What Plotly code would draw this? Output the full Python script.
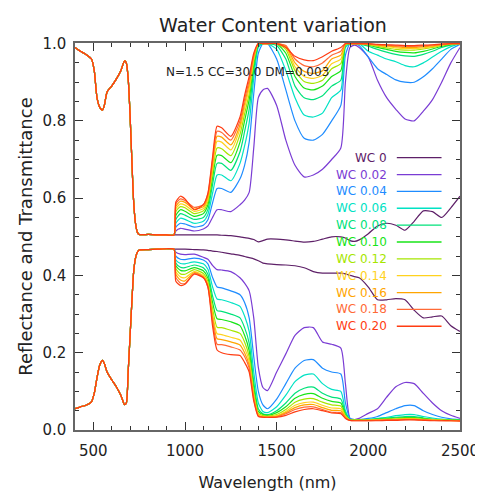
import plotly.graph_objects as go

# ---------------- data ----------------
wc_labels = ["WC 0", "WC 0.02", "WC 0.04", "WC 0.06", "WC 0.08", "WC 0.10",
             "WC 0.12", "WC 0.14", "WC 0.16", "WC 0.18", "WC 0.20"]
colors = ["#5E2068", "#7A3CD4", "#1E8CFF", "#00E2C4", "#00E27A", "#18E418",
          "#A6E600", "#FFD21E", "#FFA500", "#FF6A36", "#FF3C12"]

# visible part (identical for all water contents)
wl_vis = [400, 430, 460, 490, 505, 520, 535, 550, 560, 575, 600, 625, 650, 670, 680,
          690, 700, 710, 720, 730, 740, 750, 800, 850, 900, 940]
refl_vis = [0.055, 0.06, 0.064, 0.073, 0.095, 0.135, 0.168, 0.18, 0.172, 0.15, 0.13,
            0.112, 0.09, 0.066, 0.07, 0.15, 0.24, 0.33, 0.41, 0.445, 0.46, 0.466,
            0.467, 0.468, 0.469, 0.468]
upper_vis = [0.99, 0.98, 0.972, 0.96, 0.93, 0.86, 0.835, 0.828, 0.84, 0.875, 0.89,
             0.908, 0.93, 0.955, 0.95, 0.91, 0.82, 0.70, 0.59, 0.535, 0.512, 0.506,
             0.506, 0.505, 0.505, 0.505]

# NIR / SWIR part
wl_swir = [950, 975, 1000, 1050, 1100, 1125, 1150, 1175, 1200, 1250, 1300, 1325, 1350,
           1375, 1400, 1425, 1450, 1500, 1550, 1600, 1650, 1700, 1750, 1800, 1850, 1875,
           1900, 1925, 1950, 2000, 2050, 2100, 2150, 2200, 2250, 2300, 2350, 2400, 2450,
           2500]

refl_wc000 = [0.468, 0.468, 0.468, 0.467, 0.466, 0.465, 0.463, 0.462, 0.46, 0.456, 0.452, 0.449, 0.446, 0.443, 0.438, 0.432, 0.43, 0.428, 0.427, 0.425, 0.42, 0.41, 0.406, 0.406, 0.406, 0.404, 0.40, 0.397, 0.394, 0.37, 0.337, 0.337, 0.34, 0.337, 0.31, 0.29, 0.293, 0.295, 0.27, 0.255]
refl_wc002 = [0.46, 0.455, 0.454, 0.455, 0.447, 0.442, 0.426, 0.415, 0.414, 0.41, 0.394, 0.38, 0.36, 0.29, 0.162, 0.11, 0.102, 0.15, 0.197, 0.245, 0.265, 0.265, 0.228, 0.222, 0.212, 0.12, 0.03, 0.027, 0.03, 0.043, 0.055, 0.085, 0.112, 0.123, 0.12, 0.095, 0.07, 0.05, 0.038, 0.03]
refl_wc004 = [0.45, 0.442, 0.441, 0.445, 0.44, 0.43, 0.395, 0.37, 0.368, 0.36, 0.35, 0.33, 0.29, 0.19, 0.1, 0.065, 0.055, 0.08, 0.12, 0.16, 0.18, 0.182, 0.16, 0.15, 0.145, 0.07, 0.03, 0.027, 0.027, 0.03, 0.035, 0.045, 0.055, 0.063, 0.063, 0.05, 0.04, 0.033, 0.029, 0.027]
refl_wc006 = [0.44, 0.431, 0.43, 0.435, 0.43, 0.416, 0.371, 0.339, 0.337, 0.33, 0.32, 0.295, 0.255, 0.15, 0.07, 0.048, 0.045, 0.06, 0.09, 0.125, 0.142, 0.145, 0.12, 0.105, 0.10, 0.05, 0.028, 0.027, 0.027, 0.027, 0.03, 0.033, 0.037, 0.04, 0.04, 0.035, 0.031, 0.028, 0.027, 0.026]
refl_wc008 = [0.432, 0.421, 0.42, 0.427, 0.42, 0.403, 0.348, 0.309, 0.307, 0.30, 0.29, 0.265, 0.225, 0.125, 0.055, 0.042, 0.04, 0.05, 0.07, 0.095, 0.108, 0.111, 0.095, 0.085, 0.08, 0.045, 0.027, 0.026, 0.026, 0.027, 0.029, 0.031, 0.033, 0.035, 0.035, 0.031, 0.028, 0.027, 0.026, 0.026]
refl_wc010 = [0.425, 0.413, 0.412, 0.42, 0.412, 0.393, 0.331, 0.288, 0.286, 0.28, 0.27, 0.245, 0.205, 0.11, 0.048, 0.04, 0.038, 0.045, 0.06, 0.082, 0.092, 0.094, 0.082, 0.074, 0.07, 0.04, 0.026, 0.026, 0.026, 0.026, 0.028, 0.029, 0.031, 0.032, 0.032, 0.03, 0.027, 0.026, 0.026, 0.025]
refl_wc012 = [0.418, 0.404, 0.403, 0.415, 0.405, 0.384, 0.315, 0.266, 0.265, 0.258, 0.25, 0.228, 0.19, 0.098, 0.043, 0.037, 0.036, 0.04, 0.053, 0.072, 0.08, 0.081, 0.072, 0.065, 0.062, 0.037, 0.026, 0.025, 0.025, 0.026, 0.027, 0.028, 0.029, 0.03, 0.03, 0.028, 0.027, 0.026, 0.025, 0.025]
refl_wc014 = [0.41, 0.396, 0.394, 0.41, 0.40, 0.377, 0.302, 0.249, 0.247, 0.24, 0.233, 0.212, 0.178, 0.09, 0.04, 0.035, 0.034, 0.037, 0.048, 0.064, 0.071, 0.072, 0.064, 0.057, 0.055, 0.035, 0.025, 0.025, 0.025, 0.025, 0.026, 0.027, 0.028, 0.029, 0.029, 0.027, 0.026, 0.025, 0.025, 0.024]
refl_wc016 = [0.403, 0.388, 0.386, 0.407, 0.397, 0.373, 0.292, 0.236, 0.234, 0.228, 0.22, 0.20, 0.168, 0.085, 0.038, 0.034, 0.033, 0.035, 0.045, 0.058, 0.065, 0.066, 0.058, 0.051, 0.05, 0.033, 0.025, 0.025, 0.025, 0.025, 0.026, 0.026, 0.027, 0.028, 0.028, 0.026, 0.025, 0.025, 0.024, 0.024]
refl_wc018 = [0.395, 0.38, 0.379, 0.405, 0.395, 0.369, 0.283, 0.222, 0.221, 0.215, 0.207, 0.19, 0.16, 0.08, 0.036, 0.033, 0.033, 0.034, 0.042, 0.053, 0.059, 0.06, 0.053, 0.046, 0.045, 0.031, 0.025, 0.024, 0.024, 0.024, 0.025, 0.026, 0.026, 0.027, 0.027, 0.026, 0.025, 0.024, 0.024, 0.024]
refl_wc020 = [0.385, 0.374, 0.377, 0.403, 0.394, 0.37, 0.27, 0.207, 0.20, 0.195, 0.193, 0.175, 0.15, 0.075, 0.035, 0.033, 0.033, 0.033, 0.038, 0.047, 0.053, 0.055, 0.05, 0.044, 0.042, 0.03, 0.025, 0.024, 0.024, 0.024, 0.024, 0.025, 0.025, 0.026, 0.026, 0.025, 0.024, 0.024, 0.024, 0.023]

upper_wc000 = [0.505, 0.505, 0.505, 0.505, 0.505, 0.505, 0.505, 0.505, 0.504, 0.503, 0.50, 0.498, 0.496, 0.493, 0.487, 0.49, 0.494, 0.494, 0.492, 0.489, 0.486, 0.488, 0.494, 0.50, 0.50, 0.497, 0.49, 0.488, 0.492, 0.508, 0.528, 0.535, 0.53, 0.517, 0.54, 0.567, 0.565, 0.55, 0.575, 0.605]
upper_wc002 = [0.515, 0.522, 0.52, 0.515, 0.52, 0.528, 0.55, 0.57, 0.57, 0.565, 0.583, 0.595, 0.615, 0.73, 0.86, 0.88, 0.884, 0.84, 0.75, 0.685, 0.655, 0.66, 0.675, 0.70, 0.73, 0.90, 0.99, 0.996, 0.99, 0.965, 0.905, 0.86, 0.83, 0.805, 0.80, 0.825, 0.855, 0.90, 0.95, 0.99]
upper_wc004 = [0.525, 0.535, 0.533, 0.525, 0.53, 0.544, 0.587, 0.625, 0.625, 0.615, 0.65, 0.685, 0.745, 0.87, 0.975, 1.0, 1.0, 0.96, 0.88, 0.80, 0.755, 0.75, 0.765, 0.80, 0.84, 0.97, 1.0, 1.0, 0.995, 0.965, 0.935, 0.92, 0.906, 0.90, 0.90, 0.914, 0.935, 0.96, 0.985, 0.998]
upper_wc006 = [0.535, 0.548, 0.545, 0.535, 0.54, 0.558, 0.612, 0.66, 0.66, 0.645, 0.69, 0.735, 0.795, 0.91, 0.99, 1.0, 1.0, 0.985, 0.93, 0.86, 0.815, 0.81, 0.82, 0.86, 0.88, 0.99, 1.0, 1.0, 1.0, 0.98, 0.97, 0.96, 0.953, 0.943, 0.94, 0.95, 0.965, 0.98, 0.992, 1.0]
upper_wc008 = [0.545, 0.56, 0.556, 0.545, 0.55, 0.571, 0.634, 0.69, 0.69, 0.672, 0.72, 0.772, 0.83, 0.93, 0.995, 1.0, 1.0, 0.995, 0.96, 0.89, 0.86, 0.855, 0.865, 0.89, 0.905, 0.995, 1.0, 1.0, 1.0, 0.993, 0.985, 0.978, 0.972, 0.968, 0.967, 0.972, 0.98, 0.99, 0.996, 1.0]
upper_wc010 = [0.555, 0.57, 0.566, 0.553, 0.56, 0.583, 0.651, 0.711, 0.71, 0.692, 0.745, 0.80, 0.855, 0.945, 1.0, 1.0, 1.0, 1.0, 0.975, 0.915, 0.885, 0.88, 0.89, 0.915, 0.93, 0.997, 1.0, 1.0, 1.0, 0.996, 0.99, 0.985, 0.98, 0.977, 0.976, 0.98, 0.986, 0.993, 0.998, 1.0]
upper_wc012 = [0.565, 0.578, 0.575, 0.56, 0.567, 0.591, 0.665, 0.73, 0.728, 0.71, 0.765, 0.818, 0.87, 0.955, 1.0, 1.0, 1.0, 1.0, 0.985, 0.93, 0.902, 0.897, 0.905, 0.935, 0.948, 0.998, 1.0, 1.0, 1.0, 0.997, 0.993, 0.989, 0.985, 0.983, 0.983, 0.986, 0.99, 0.995, 0.999, 1.0]
upper_wc014 = [0.572, 0.585, 0.582, 0.566, 0.573, 0.599, 0.677, 0.747, 0.745, 0.725, 0.78, 0.833, 0.885, 0.96, 1.0, 1.0, 1.0, 1.0, 0.99, 0.94, 0.915, 0.91, 0.918, 0.948, 0.96, 0.999, 1.0, 1.0, 1.0, 0.998, 0.995, 0.992, 0.989, 0.987, 0.987, 0.989, 0.992, 0.996, 0.999, 1.0]
upper_wc016 = [0.578, 0.592, 0.589, 0.572, 0.578, 0.605, 0.687, 0.76, 0.758, 0.738, 0.79, 0.845, 0.895, 0.965, 1.0, 1.0, 1.0, 1.0, 0.993, 0.95, 0.928, 0.923, 0.93, 0.96, 0.97, 1.0, 1.0, 1.0, 1.0, 0.999, 0.996, 0.994, 0.992, 0.99, 0.99, 0.992, 0.994, 0.997, 1.0, 1.0]
upper_wc018 = [0.585, 0.598, 0.594, 0.576, 0.583, 0.611, 0.697, 0.773, 0.77, 0.75, 0.80, 0.855, 0.905, 0.97, 1.0, 1.0, 1.0, 1.0, 0.995, 0.96, 0.943, 0.94, 0.95, 0.97, 0.98, 1.0, 1.0, 1.0, 1.0, 0.999, 0.997, 0.996, 0.994, 0.993, 0.993, 0.994, 0.996, 0.998, 1.0, 1.0]
upper_wc020 = [0.59, 0.605, 0.598, 0.57, 0.583, 0.613, 0.705, 0.786, 0.782, 0.76, 0.81, 0.866, 0.915, 0.975, 1.0, 1.0, 1.0, 1.0, 0.99, 0.967, 0.958, 0.956, 0.966, 0.98, 0.99, 1.0, 1.0, 1.0, 1.0, 1.0, 0.998, 0.997, 0.996, 0.995, 0.995, 0.996, 0.997, 0.999, 1.0, 1.0]

refl_swir = [refl_wc000, refl_wc002, refl_wc004, refl_wc006, refl_wc008, refl_wc010,
             refl_wc012, refl_wc014, refl_wc016, refl_wc018, refl_wc020]
upper_swir = [upper_wc000, upper_wc002, upper_wc004, upper_wc006, upper_wc008, upper_wc010,
              upper_wc012, upper_wc014, upper_wc016, upper_wc018, upper_wc020]

x_ticks = [500, 1000, 1500, 2000, 2500]
y_ticks = [0.0, 0.2, 0.4, 0.6, 0.8, 1.0]

# ---------------- figure ----------------
W, H = 483, 493
L, R, T, B = 67, 20, 35, 70
plot_w = W - L - R
plot_h = H - T - B

fig = go.Figure()
x_all = wl_vis + wl_swir
for i, lab in enumerate(wc_labels):
    fig.add_trace(go.Scatter(x=x_all, y=refl_vis + refl_swir[i], mode="lines",
                             line=dict(color=colors[i], width=1.2, shape="spline",
                                       smoothing=0.6),
                             name=lab + " R", showlegend=False, hoverinfo="skip"))
    fig.add_trace(go.Scatter(x=x_all, y=upper_vis + upper_swir[i], mode="lines",
                             line=dict(color=colors[i], width=1.2, shape="spline",
                                       smoothing=0.6),
                             name=lab + " 1-T", showlegend=False, hoverinfo="skip"))

font_family = "DejaVu Sans, Liberation Sans, sans-serif"
text_col = "#222222"

# legend drawn as text + line samples, right side of plot
row0 = 150
row_step = 16.9
def px_to_paper_x(px):
    return (px - L) / plot_w
def px_to_paper_y(py):
    return (H - B - py) / plot_h

for i, lab in enumerate(wc_labels):
    yy = px_to_paper_y(row0 + row_step * i)
    fig.add_annotation(x=px_to_paper_x(390), y=yy, xref="paper", yref="paper",
                       text=lab, showarrow=False, xanchor="right", yanchor="middle",
                       font=dict(family=font_family, size=12, color=colors[i]))
    fig.add_shape(type="line", xref="paper", yref="paper",
                  x0=px_to_paper_x(398), x1=px_to_paper_x(444), y0=yy, y1=yy,
                  line=dict(color=colors[i], width=1.3))

fig.add_annotation(x=px_to_paper_x(244), y=px_to_paper_y(64), xref="paper", yref="paper",
                   text="N=1.5 CC=30.0 DM=0.003", showarrow=False,
                   xanchor="center", yanchor="middle",
                   font=dict(family=font_family, size=12, color=text_col))

axis_common = dict(
    showline=True, linecolor="#666666", linewidth=1.5, mirror="ticks",
    ticks="inside", ticklen=8, tickcolor="#333333", tickwidth=1,
    showgrid=False, zeroline=False,
    tickfont=dict(family=font_family, size=15, color=text_col),
)

fig.update_xaxes(range=[400, 2500], tickvals=x_ticks,
                 minor=dict(dtick=100, ticks="inside", ticklen=4, tickcolor="#333333"),
                 ticklabelstandoff=6,
                 title=dict(text="Wavelength (nm)", standoff=18,
                            font=dict(family=font_family, size=16, color=text_col)),
                 **axis_common)
fig.update_yaxes(range=[0, 1.0015], tickvals=y_ticks, tickformat=".1f",
                 minor=dict(dtick=0.05, ticks="inside", ticklen=4, tickcolor="#333333"),
                 ticklabelstandoff=4,
                 title=dict(text="Reflectance and Transmittance", standoff=5,
                            font=dict(family=font_family, size=18, color=text_col)),
                 **axis_common)

fig.update_layout(
    width=W, height=H,
    margin=dict(l=L, r=R, t=T, b=B),
    paper_bgcolor="white", plot_bgcolor="white",
    title=dict(text="Water Content variation", x=(L + plot_w / 2) / W, xanchor="center",
               y=1 - 17 / H, yanchor="middle", yref="container",
               font=dict(family=font_family, size=19, color=text_col)),
    showlegend=False,
)

fig.write_html("out.html")
